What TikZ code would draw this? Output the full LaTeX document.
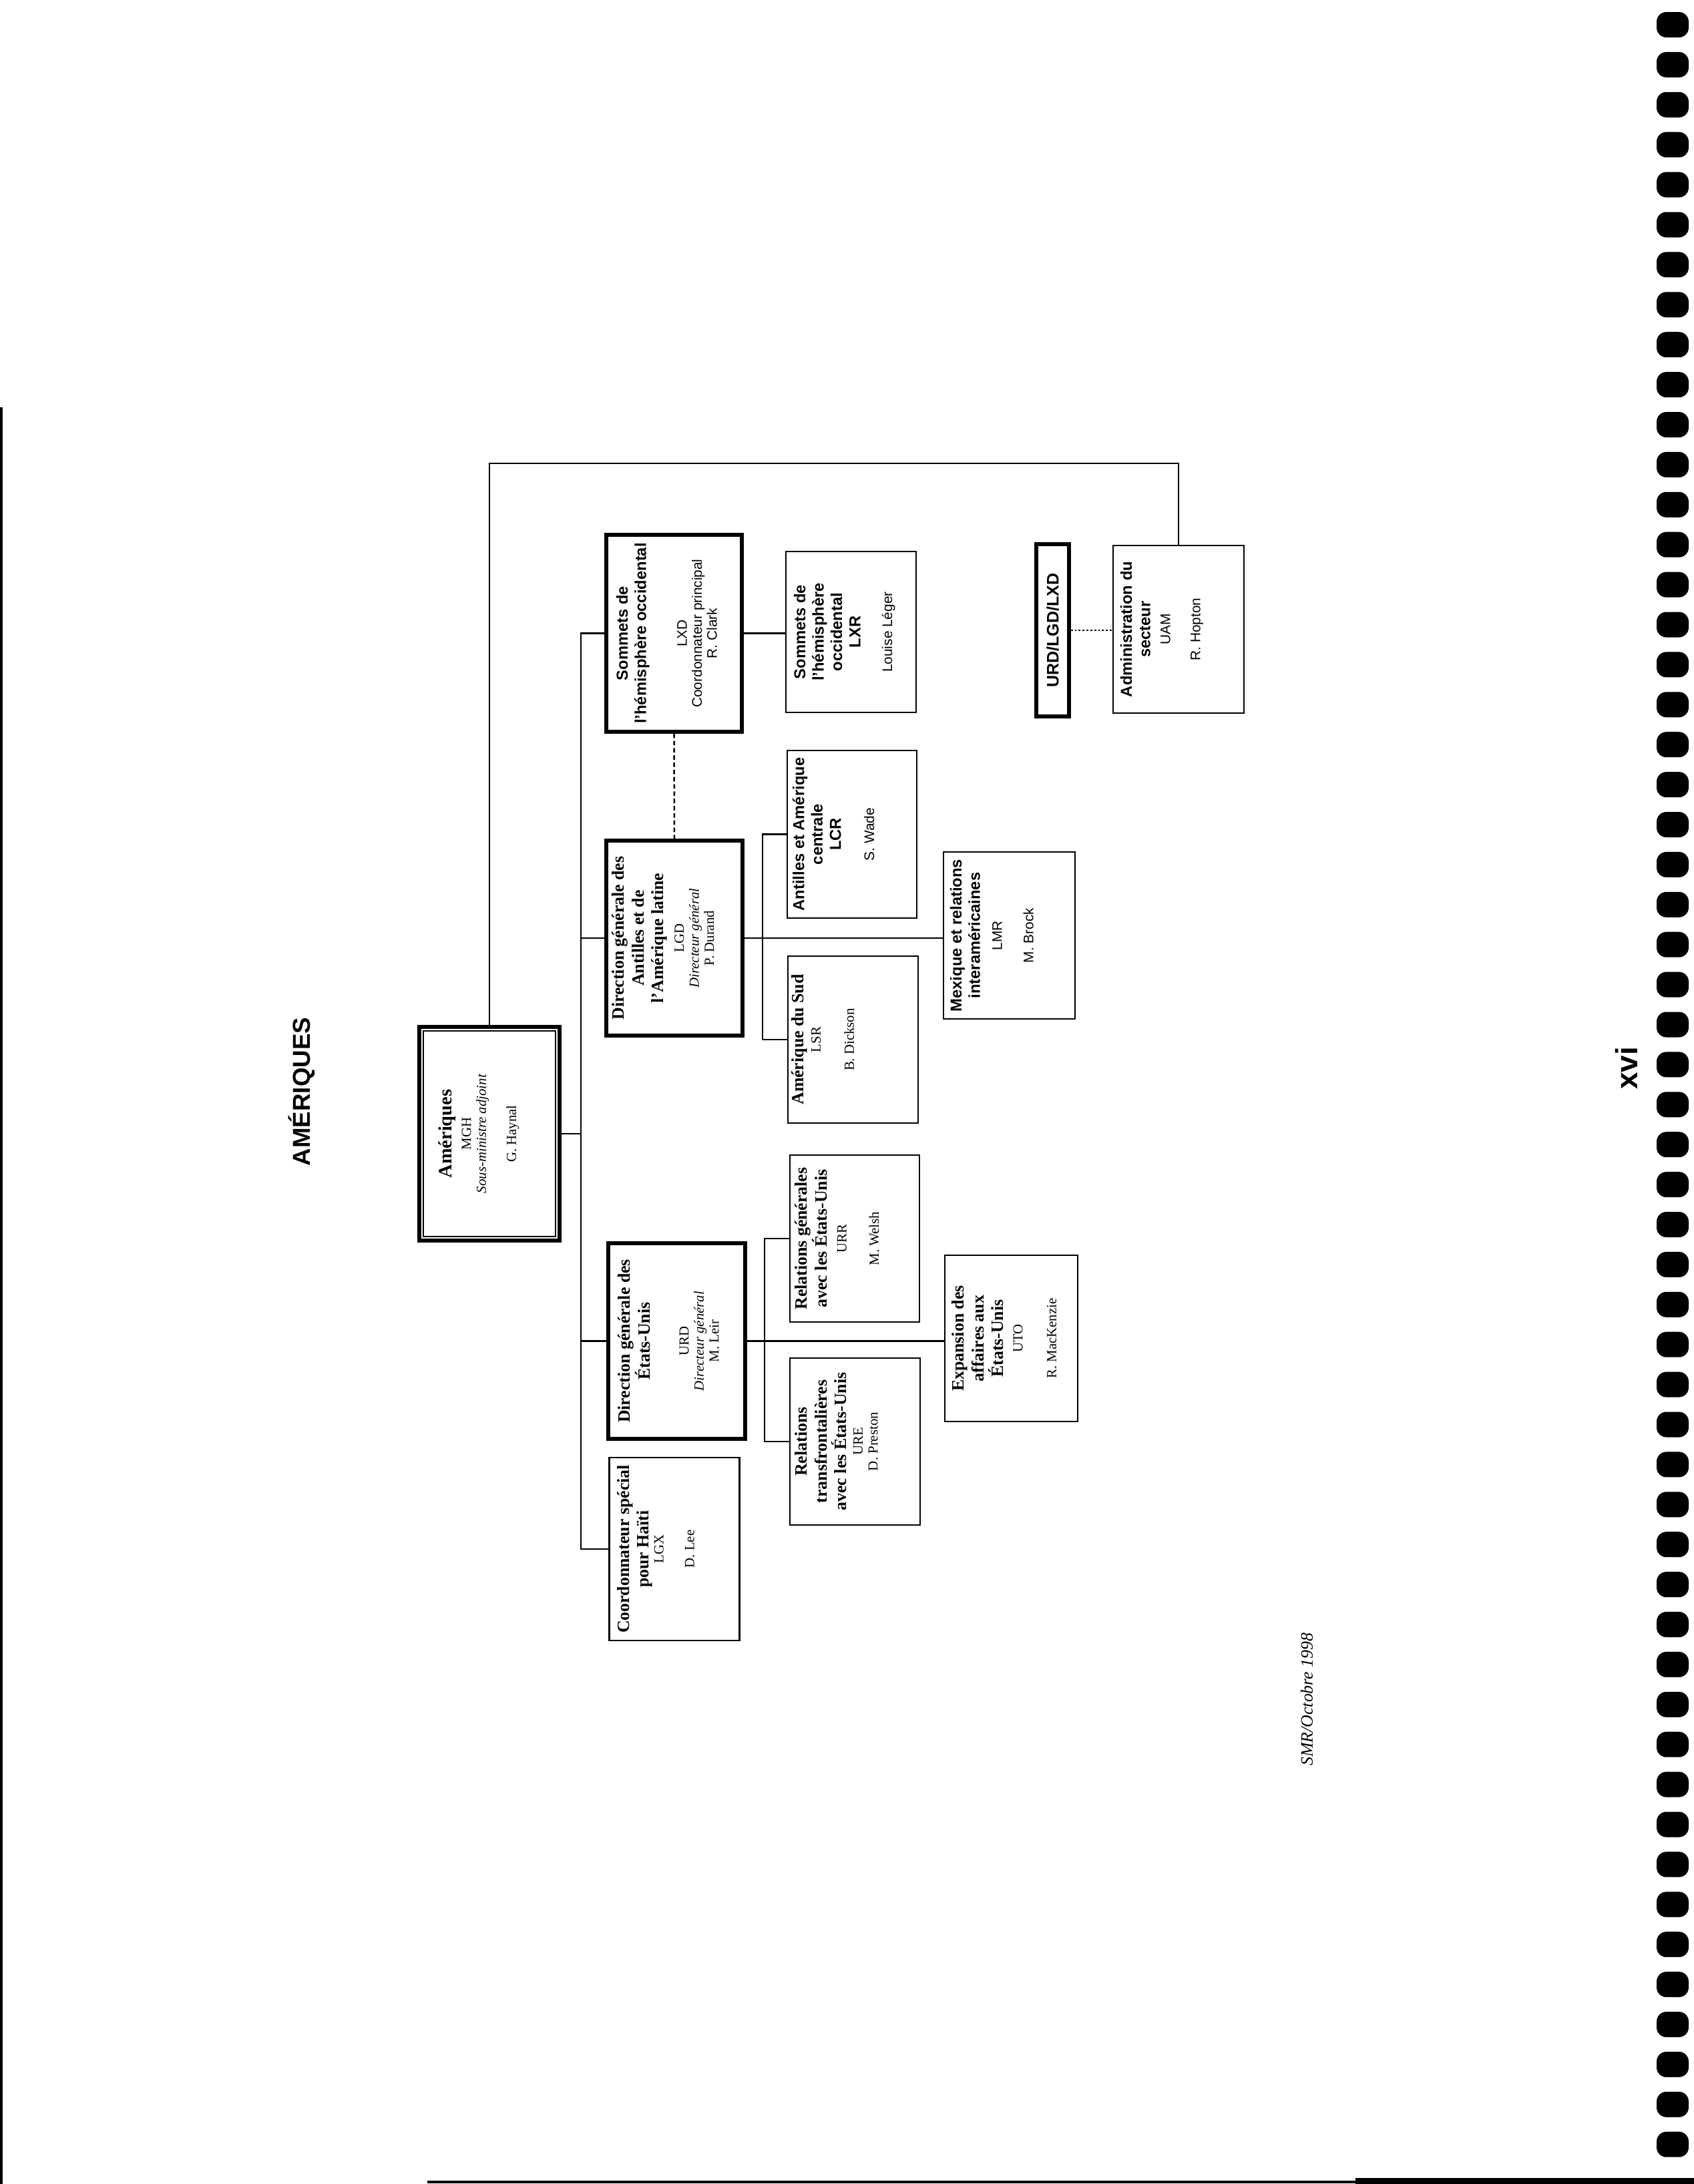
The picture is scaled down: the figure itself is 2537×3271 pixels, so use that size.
\documentclass[tikz,border=0pt]{standalone}
\usepackage{fontspec}
\setmainfont{Liberation Serif}
\setsansfont{Liberation Sans}
\usepackage{graphicx}
\newlength{\scanpx}
\setlength{\scanpx}{0.24pt}
\newcommand{\hd}{\bfseries\fontsize{6.2}{7}\selectfont}
\newcommand{\hs}{\bfseries\fontsize{5.7}{6.6}\selectfont}
\newcommand{\vtext}[3]{\rotatebox{90}{\parbox[c][#2\scanpx][t]{#1\scanpx}{\centering\lineskiplimit=-10pt\relax\fontsize{5}{5.4}\selectfont #3}}}
\tikzset{
  orgbox/.style={draw, line width=0.6pt, inner sep=0pt, font=\rmfamily},
  heavybox/.style={orgbox, line width=1.3pt},
  sansbox/.style={font=\sffamily},
  link/.style={line width=0.7pt},
  dashlink/.style={line width=0.6pt, dash pattern=on 1.6pt off 1pt},
  dotlink/.style={line width=0.7pt, dash pattern=on 0.7pt off 0.7pt},
}

\begin{document}
\begin{tikzpicture}[x=\scanpx, y=-\scanpx]
    \useasboundingbox (0,0) rectangle (2537,3271);
    \node[rotate=90, font=\sffamily\bfseries\fontsize{8.8}{10}\selectfont] (title) at (452,1635) {AMÉRIQUES};
    \node[orgbox, line width=1.6pt, minimum width=210*\scanpx, minimum height=320*\scanpx] (mgh) at (733,1698)
        {\vtext{316}{152}{{\bfseries\fontsize{6.8}{7}\selectfont Amériques\\[1.5pt]}MGH\\{\itshape Sous-ministre adjoint\\[5.4pt]}G. Haynal}};
    \draw[line width=0.5pt] ([shift={(9,9)}]mgh.north west) rectangle ([shift={(-9,-9)}]mgh.south east);
    \node[heavybox, sansbox, minimum width=203*\scanpx, minimum height=295*\scanpx] (lxd) at (1009.5,948.5)
        {\vtext{291}{173}{{\hs Sommets de\\ l'hémisphère occidental\\[9.2pt]}LXD\\ Coordonnateur principal\\ R. Clark}};
    \node[orgbox, sansbox, minimum width=195*\scanpx, minimum height=241*\scanpx] (lxr) at (1274.5,946.5)
        {\vtext{237}{171}{{\hs Sommets de\\ l'hémisphère\\ occidental\\ LXR\\[6pt]}Louise Léger}};
    \node[heavybox, minimum width=204*\scanpx, minimum height=292*\scanpx] (lgd) at (1010,1405)
        {\vtext{288}{186}{{\hd Direction générale des\\ Antilles et de\\ l'Amérique latine\\[2pt]}LGD\\{\itshape Directeur général\\}P. Durand}};
    \node[orgbox, sansbox, minimum width=194*\scanpx, minimum height=251*\scanpx] (lcr) at (1276,1249.5)
        {\vtext{247}{178}{{\hs Antilles et Amérique\\ centrale\\ LCR\\[6.5pt]}S. Wade}};
    \node[orgbox, minimum width=195*\scanpx, minimum height=250*\scanpx] (lsr) at (1277.5,1557)
        {\vtext{246}{183}{{\hd Amérique du Sud\\[0.6pt]}LSR\\[6.6pt]B. Dickson}};
    \node[orgbox, sansbox, minimum width=197*\scanpx, minimum height=250*\scanpx] (lmr) at (1511.5,1401)
        {\vtext{246}{177}{{\hs Mexique et relations\\ interaméricaines\\[2.5pt]}LMR\\[5.9pt]M. Brock}};
    \node[heavybox, minimum width=205*\scanpx, minimum height=293*\scanpx] (urd) at (1013.5,2008.5)
        {\vtext{289}{175}{{\hd Direction générale des\\ États-Unis\\[8.6pt]}URD\\{\itshape Directeur général\\}M. Leir}};
    \node[orgbox, minimum width=194*\scanpx, minimum height=250*\scanpx] (urr) at (1280,1855)
        {\vtext{246}{178}{{\hd Relations générales\\ avec les États-Unis\\[1.7pt]}URR\\[6.2pt]M. Welsh}};
    \node[orgbox, minimum width=195*\scanpx, minimum height=250*\scanpx] (ure) at (1280.5,2159)
        {\vtext{246}{179}{{\hd Relations\\ transfrontalières\\ avec les États-Unis\\[0.5pt]}URE\\ D. Preston}};
    \node[orgbox, minimum width=199*\scanpx, minimum height=249*\scanpx] (uto) at (1514.5,2004.5)
        {\vtext{245}{177}{{\hd Expansion des\\ affaires aux\\ États-Unis\\[1.6pt]}UTO\\[6.7pt]R. MacKenzie}};
    \node[orgbox, minimum width=195*\scanpx, minimum height=274*\scanpx] (lgx) at (1010,2320)
        {\vtext{270}{171}{{\hd Coordonnateur spécial\\ pour Haïti\\[-0.1pt]}LGX\\[5.6pt]D. Lee}};
    \node[orgbox, sansbox, minimum width=196*\scanpx, minimum height=251*\scanpx] (uam) at (1765,942.5)
        {\vtext{247}{174}{{\hs Administration du\\ secteur\\[1.8pt]}UAM\\[5.4pt]R. Hopton}};
    \node[heavybox, sansbox, minimum width=49*\scanpx, minimum height=258*\scanpx] (tri) at (1576.5,944)
        {\rotatebox{90}{\bfseries\fontsize{6}{7}\selectfont URD/LGD/LXD}};
    \coordinate (topbar) at (1200,694);
    \coordinate (bus) at (870,1700);
    \coordinate (lgdbus) at (1142,1405);
    \coordinate (urdbus) at (1145,2008.5);
    \draw[link] (mgh.north) |- (topbar) -| (uam.north);
    \draw[link] (mgh.east) -- (mgh.east -| bus);
    \draw[link] (lxd.west) -| (bus);
    \draw[link] (lgx.west) -| (bus);
    \draw[link] (lgd.west) -- (lgd.west -| bus);
    \draw[link] (urd.west) -- (urd.west -| bus);
    \draw[link] (lxd.east) -- (lxd.east -| lxr.west);
    \draw[dashlink] (lxd.south) -- (lgd.north);
    \draw[link] (lgd.east) -- (lgd.east -| lmr.west);
    \draw[link] (lcr.west) -| (lgdbus) |- (lsr.west);
    \draw[link] (urd.east) -- (urd.east -| uto.west);
    \draw[link] (urr.west) -| (urdbus) |- (ure.west);
    \draw[dotlink] (tri.east) -- (tri.east -| uam.west);
    \node[rotate=90, font=\itshape\fontsize{6.2}{7}\selectfont] (stamp) at (1957,2545) {SMR/Octobre 1998};
    \node[rotate=90, font=\sffamily\bfseries\fontsize{11}{12}\selectfont] (folio) at (2436,1600) {xvi};
    \foreach \i in {0,...,53}
        \fill[rounded corners=3.5pt] (2481,{18+59.9*\i}) rectangle ++(48,38);
    \draw[line width=1pt] (640,3268) -- (2537,3268);
    \fill (2030,3262) rectangle (2537,3271);
    \draw[line width=1pt] (2,610) -- (2,3271);
\end{tikzpicture}
\end{document}
